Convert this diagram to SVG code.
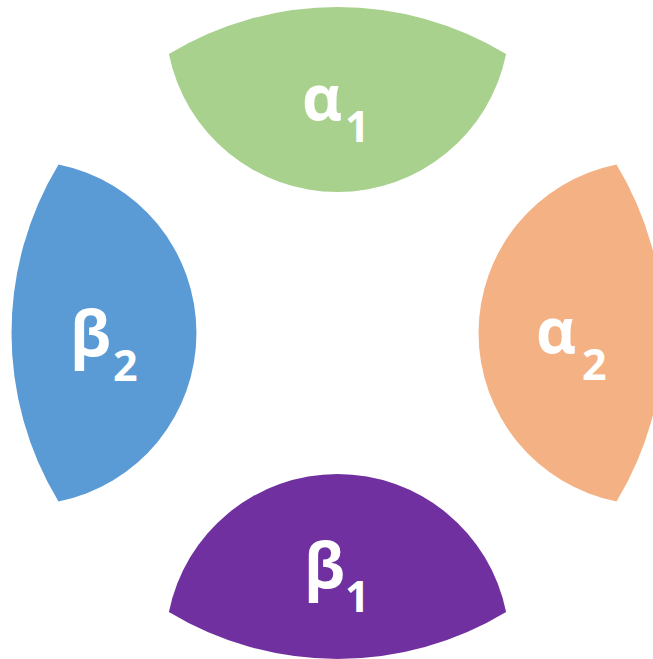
<svg xmlns="http://www.w3.org/2000/svg" width="653" height="659" viewBox="0 0 653 659">
  <style>
    .lbl { font-family: "Open Sans", "Noto Sans", "DejaVu Sans", sans-serif; font-weight: bold; fill: #FFFFFF; }
    .main { font-size: 62px; }
    .sub { font-size: 43px; }
  </style>
  <rect width="653" height="659" fill="#FFFFFF"/>
  <g id="connectors"></g>
  <g id="alpha1">
    <path d="M168.9,54 A326,326 0 0 1 506.1,54 A172,172 0 0 1 168.9,54 Z" fill="#A9D18E"/>
    <text class="lbl"><tspan class="main" x="302" y="120">α</tspan><tspan class="sub" x="345" y="142">1</tspan></text>
  </g>
  <g id="beta2">
    <path d="M58.5,164.4 A326,326 0 0 0 58.5,501.6 A172,172 0 0 0 58.5,164.4 Z" fill="#5B9BD5"/>
    <text class="lbl"><tspan class="main" x="70" y="356">β</tspan><tspan class="sub" x="113" y="381">2</tspan></text>
  </g>
  <g id="alpha2">
    <path d="M616.5,164.4 A326,326 0 0 1 616.5,501.6 A172,172 0 0 1 616.5,164.4 Z" fill="#F4B183"/>
    <text class="lbl"><tspan class="main" x="536" y="353">α</tspan><tspan class="sub" x="582" y="380">2</tspan></text>
  </g>
  <g id="beta1">
    <path d="M168.9,612 A326,326 0 0 0 506.1,612 A172,172 0 0 0 168.9,612 Z" fill="#7030A0"/>
    <text class="lbl"><tspan class="main" x="304" y="588">β</tspan><tspan class="sub" x="345" y="612">1</tspan></text>
  </g>
</svg>
